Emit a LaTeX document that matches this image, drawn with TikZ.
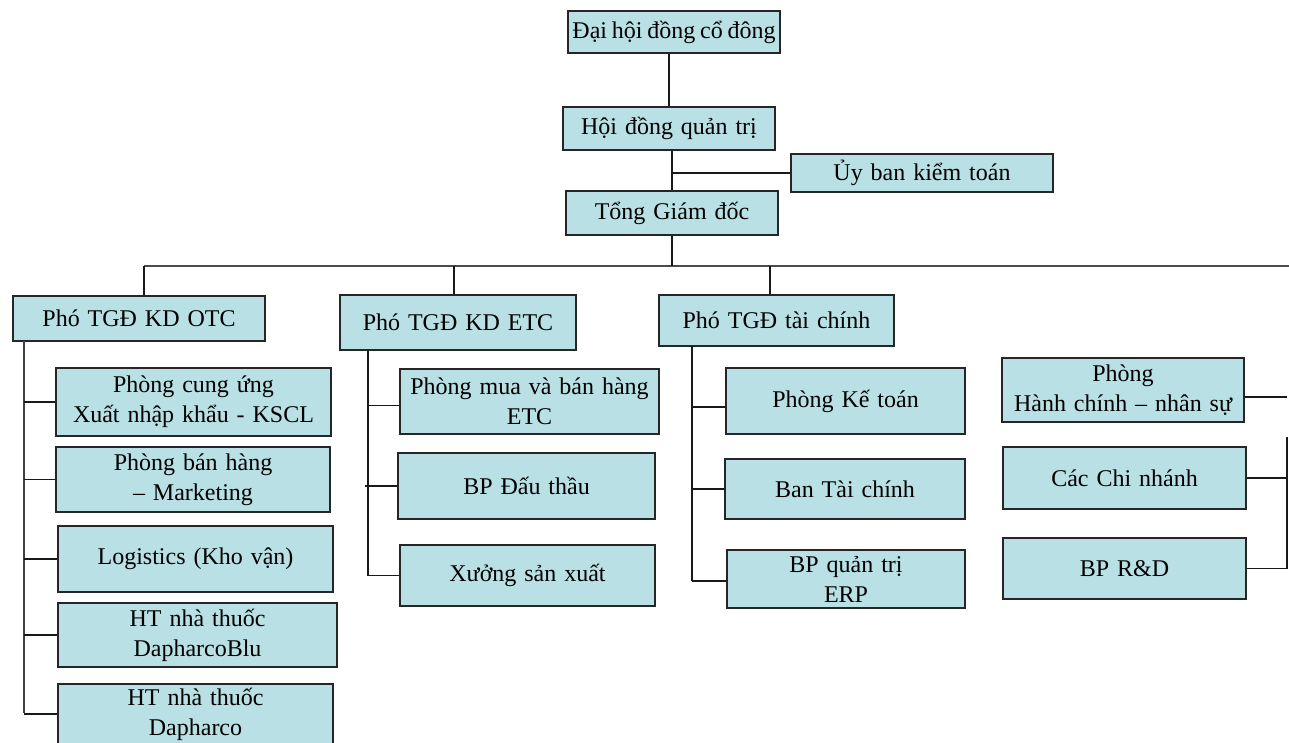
\documentclass[tikz,border=0pt]{standalone}
\usepackage{fontspec}
\setmainfont{Liberation Serif}
\definecolor{boxfill}{HTML}{B9E0E4}
\newcommand\boxspacing{\spaceskip=0.33em plus 0.1em\relax}
\newcommand\tightspacing{\spaceskip=0.2em\relax}
\begin{document}
\begin{tikzpicture}[x=1pt,y=-1pt,
  box/.style={draw=black!85, line width=1.7pt, fill=boxfill, inner sep=0pt, align=center,
    font=\fontsize{24}{30}\selectfont, execute at begin node=\boxspacing},
  conn/.style={line width=1.4pt, black!90},
  bus/.style={line width=1.1pt, black!70}]
\clip (0,0) rectangle (1289,742);
\fill[white] (0,0) rectangle (1289,742);
% top chain
\node[box, minimum width=212pt, minimum height=42pt, execute at begin node=\tightspacing] (dh) at (674,32) {Đại hội đồng cổ đông};
\node[box, minimum width=212pt, minimum height=43pt] (hd) at (669,128.5) {Hội đồng quản trị};
\node[box, minimum width=262pt, minimum height=38pt] (ub) at (922,173) {Ủy ban kiểm toán};
\node[box, minimum width=212pt, minimum height=44pt] (tgd) at (672,213) {Tổng Giám đốc};
% deputies
\node[box, minimum width=252pt, minimum height=45pt] (otc) at (139,318.5) {Phó TGĐ KD OTC};
\node[box, minimum width=236pt, minimum height=55pt] (etc) at (458,322.5) {Phó TGĐ KD ETC};
\node[box, minimum width=235pt, minimum height=51pt] (tc) at (776.5,320.5) {Phó TGĐ tài chính};
% OTC branch
\node[box, minimum width=275pt, minimum height=68pt] (o1) at (193.5,402) {Phòng cung ứng\\Xuất nhập khẩu - KSCL};
\node[box, minimum width=274pt, minimum height=65pt] (o2) at (193,479.5) {Phòng bán hàng\\– Marketing};
\node[box, minimum width=275pt, minimum height=66pt] (o3) at (195.5,559) {Logistics (Kho vận)};
\node[box, minimum width=279pt, minimum height=64pt] (o4) at (197.5,635) {HT nhà thuốc\\DapharcoBlu};
\node[box, minimum width=275pt, minimum height=60pt] (o5) at (195.5,714) {HT nhà thuốc\\Dapharco};
% ETC branch
\node[box, minimum width=259pt, minimum height=65pt] (e1) at (529.5,401.5) {Phòng mua và bán hàng\\ETC};
\node[box, minimum width=257pt, minimum height=66pt] (e2) at (526.5,486) {BP Đấu thầu};
\node[box, minimum width=255pt, minimum height=61pt] (e3) at (527.5,575.5) {Xưởng sản xuất};
% finance branch
\node[box, minimum width=239pt, minimum height=66pt] (t1) at (845.5,401) {Phòng Kế toán};
\node[box, minimum width=240pt, minimum height=60pt] (t2) at (845,489) {Ban Tài chính};
\node[box, minimum width=238pt, minimum height=58pt] (t3) at (846,579) {BP quản trị\\ERP};
% right branch
\node[box, minimum width=242pt, minimum height=64pt] (h1) at (1123,390) {Phòng\\Hành chính – nhân sự};
\node[box, minimum width=243pt, minimum height=62pt] (h2) at (1124.5,478) {Các Chi nhánh};
\node[box, minimum width=243pt, minimum height=61pt] (h3) at (1124.5,568.5) {BP R\&D};
% connectors top
\draw[conn] (hd.north) -- (hd.north |- dh.south);
\draw[conn] (tgd.north) -- (tgd.north |- hd.south);
\coordinate (j1) at (672,173);
\draw[conn] (j1) -- (ub.west);
\coordinate (bl) at (144,266);
\coordinate (br) at (1289,266);
\coordinate (b2) at (454,266);
\coordinate (b3) at (770,266);
\draw[bus] (bl) -- (br);
\draw[conn] (tgd.south) -- (tgd.south |- bl);
\draw[conn] (bl) -- (bl |- otc.north);
\draw[conn] (b2) -- (b2 |- etc.north);
\draw[conn] (b3) -- (b3 |- tc.north);
% OTC bar
\coordinate (ot) at (24,341);
\coordinate (ob) at (24,713);
\draw[conn, black!75] (ot) -- (ob);
\foreach \n in {o1,o2,o3,o4,o5} \draw[conn] (\n.west) -- (\n.west -| ot);
% ETC bar
\coordinate (et) at (368,350);
\coordinate (eb) at (368,576);
\draw[conn] (et) -- (eb);
\draw[conn] ([yshift=-4pt]e1.west) -- ([yshift=-4pt]e1.west -| et);
\draw[conn, line width=1.8pt] (e2.west) -- ([xshift=-3pt]e2.west -| et);
\draw[conn] (e3.west) -- (e3.west -| et);
% TC bar
\coordinate (tt) at (692,346);
\coordinate (tb) at (692,581);
\draw[conn] (tt) -- (tb);
\draw[conn] ([yshift=-6pt]t1.west) -- ([yshift=-6pt]t1.west -| tt);
\draw[conn] (t2.west) -- (t2.west -| tt);
\draw[conn] ([yshift=-2pt]t3.west) -- ([yshift=-2pt]t3.west -| tt);
% right bar
\coordinate (rt) at (1287,437);
\coordinate (rb) at (1287,569);
\draw[conn] (rt) -- (rb);
\draw[conn] ([yshift=-7pt]h1.east) -- ([yshift=-7pt]h1.east -| rt);
\draw[conn] (h2.east) -- (h2.east -| rt);
\draw[conn] (h3.east) -- (h3.east -| rt);
\end{tikzpicture}
\end{document}
